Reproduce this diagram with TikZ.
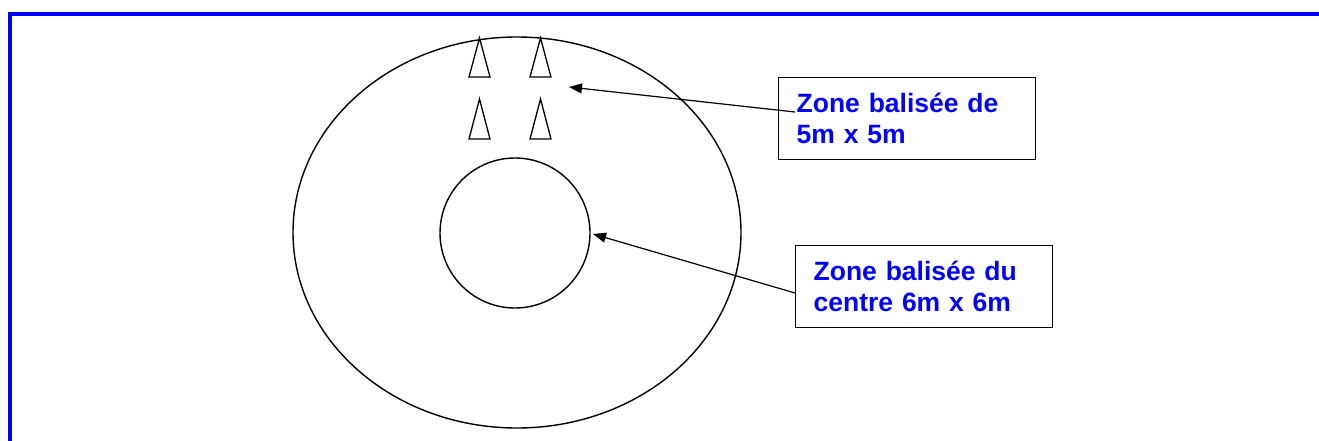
\documentclass[tikz,border=0pt]{standalone}
\usepackage{fontspec}
\setmainfont{Liberation Sans}
\usetikzlibrary{arrows.meta}
\begin{document}
\begin{tikzpicture}[x=1pt,y=-1pt,
  lbl/.style={draw, line width=1.3pt, font=\bfseries\fontsize{26.5}{31}\selectfont,
    text=blue, align=left, text width=221pt, inner xsep=18pt, inner ysep=0pt,
    minimum height=82pt, anchor=north west},
  cone/.style={draw, line width=1.3pt, line join=miter},
  ptr/.style={line width=1.2pt, -{Triangle[length=13pt,width=10pt]}},
  outline/.style={line width=1.4pt}]
\useasboundingbox (0,0) rectangle (1319,441);
\clip (0,0) rectangle (1319,441);
% blue frame
\draw[blue, line width=4pt] (10,460) -- (10,14) -- (1340,14);
% outer field and inner circle
\draw[outline] (517,232.5) ellipse [x radius=224, y radius=195.5];
\node[outline, draw, circle, minimum size=150pt, inner sep=0pt] (centre) at (515,233) {};
% cones
\draw[cone] (469,77) -- (479.5,38) -- (490,77) -- cycle;
\draw[cone] (530,77) -- (540.5,38) -- (551,77) -- cycle;
\draw[cone] (469,139) -- (479.5,99) -- (490,139) -- cycle;
\draw[cone] (530,139) -- (540.5,99) -- (551,139) -- cycle;
% labels
\node[lbl] (box1) at (778,77) {Zone balisée de\\5m x 5m};
\node[lbl] (box2) at (795,245) {Zone balisée du\\centre 6m x 6m};
% arrows
\coordinate (zone) at (569,87);
\coordinate (tail1) at (795,112);
\coordinate (tip2) at (593,234);
\draw[ptr] (tail1) -- (zone);
\draw[ptr] (box2.west |- 0,293) -- (tip2);
\end{tikzpicture}
\end{document}
